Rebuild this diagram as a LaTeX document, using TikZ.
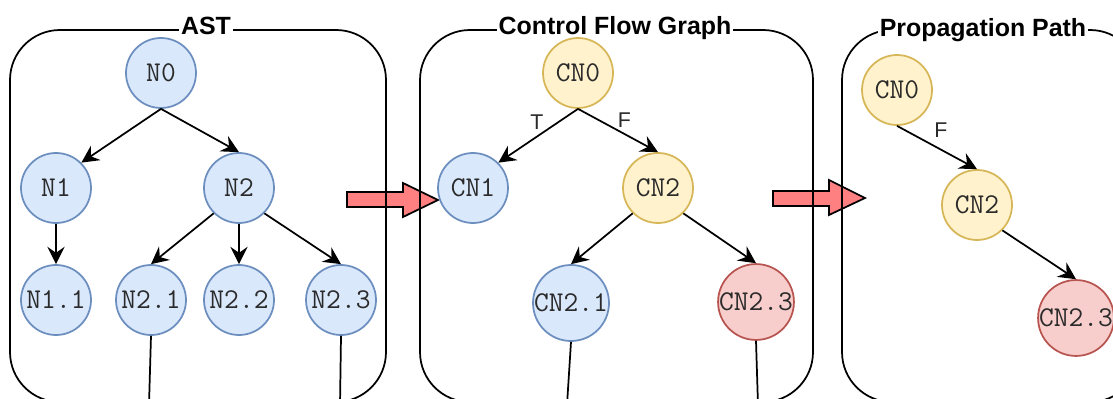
\documentclass[tikz,border=0pt]{standalone}
\usepackage{fontspec}
\setmainfont{Liberation Sans}
\usetikzlibrary{arrows.meta}
\definecolor{bluefill}{HTML}{DAE8FC}
\definecolor{bluedraw}{HTML}{6C8EBF}
\definecolor{yelfill}{HTML}{FFF2CC}
\definecolor{yeldraw}{HTML}{D6B656}
\definecolor{redfill}{HTML}{F8CECC}
\definecolor{reddraw}{HTML}{B85450}
\definecolor{bigarrow}{HTML}{FF8080}
\definecolor{txt}{HTML}{2A2A2A}
\begin{document}
\begin{tikzpicture}[x=0.75pt,y=-0.75pt,
 nd/.style={circle, minimum size=52.5pt, inner sep=0pt, line width=1.3pt, font=\ttfamily\fontsize{21.5}{23}\selectfont, text=txt},
 bn/.style={nd, draw=bluedraw, fill=bluefill},
 yn/.style={nd, draw=yeldraw, fill=yelfill},
 rn/.style={nd, draw=reddraw, fill=redfill},
 panel/.style={draw=black, line width=1.3pt, rounded corners=37.5pt},
 ttl/.style={fill=white, inner sep=1.5pt, anchor=base, font=\bfseries\fontsize{18.7}{20}\selectfont},
 edge/.style={line width=1.3pt, -{Stealth[length=13pt,width=13pt,inset=4.5pt]}},
 stub/.style={line width=1.3pt},
 lbl/.style={font=\fontsize{16}{17}\selectfont, text=txt},
 blk/.style={draw=black, line width=1.3pt, fill=bigarrow, line join=miter}
]
\clip (0,0) rectangle (1113,399);
\fill[white] (0,0) rectangle (1113,399);

% block arrows (below panels)
\draw[blk] (347,192) -- (403,192) -- (403,183) -- (438,200) -- (403,217) -- (403,207) -- (347,207) -- cycle;
\draw[blk] (773,191) -- (829,191) -- (829,180) -- (865,198) -- (829,215) -- (829,206) -- (773,206) -- cycle;

% panels
\draw[panel] (10,30) rectangle (386,402);
\draw[panel] (420,30) rectangle (813,402);
\draw[panel] (842,30) rectangle (1140,402);
\node[ttl] (tast) at (206,35) {AST};
\node[ttl] (tcfg) at (615,35) {Control Flow Graph};
\node[ttl] (tpp) at (983,37) {Propagation Path};

% AST
\node[bn] (N0) at (161,73) {N0};
\node[bn] (N1) at (56,188) {N1};
\node[bn] (N2) at (239,188) {N2};
\node[bn] (N11) at (56,300) {N1.1};
\node[bn] (N21) at (151,300) {N2.1};
\node[bn] (N22) at (239,300) {N2.2};
\node[bn] (N23) at (341,300) {N2.3};
\draw[edge] (N0.south) -- (N1.45);
\draw[edge] (N0.south) -- (N2.north);
\draw[edge] (N1.south) -- (N11.north);
\draw[edge] (N2.225) -- (N21.north);
\draw[edge] (N2.south) -- (N22.north);
\draw[edge] (N2.315) -- (N23.north);
\coordinate (s1) at (149,405);
\coordinate (s2) at (340,405);
\draw[stub] (N21.south) -- (s1);
\draw[stub] (N23.south) -- (s2);

% CFG
\node[yn] (CN0) at (578,73) {CN0};
\node[bn] (CN1) at (473,188) {CN1};
\node[yn] (CN2) at (658,188) {CN2};
\node[bn, minimum size=57pt] (CN21) at (571,303) {CN2.1};
\node[rn, minimum size=55.5pt] (CN23) at (756,302) {CN2.3};
\draw[edge] (CN0.south) -- (CN1.45);
\draw[edge] (CN0.south) -- (CN2.north);
\node[lbl] (lt) at (537,122.5) {T};
\node[lbl] (lf) at (624.5,120) {F};
\draw[edge] (CN2.225) -- (CN21.north);
\draw[edge] (CN2.315) -- (CN23.north);
\coordinate (s3) at (567,405);
\coordinate (s4) at (758,405);
\draw[stub] (CN21.south) -- (s3);
\draw[stub] (CN23.south) -- (s4);

% Propagation path
\node[yn] (PCN0) at (897,90) {CN0};
\node[yn] (PCN2) at (977,205) {CN2};
\node[rn, minimum size=54pt] (PCN23) at (1076,318) {CN2.3};
\draw[edge] (PCN0.south) -- (PCN2.north);
\node[lbl] (lpf) at (941,130.5) {F};
\draw[edge] (PCN2.315) -- (PCN23.north);
\end{tikzpicture}
\end{document}
